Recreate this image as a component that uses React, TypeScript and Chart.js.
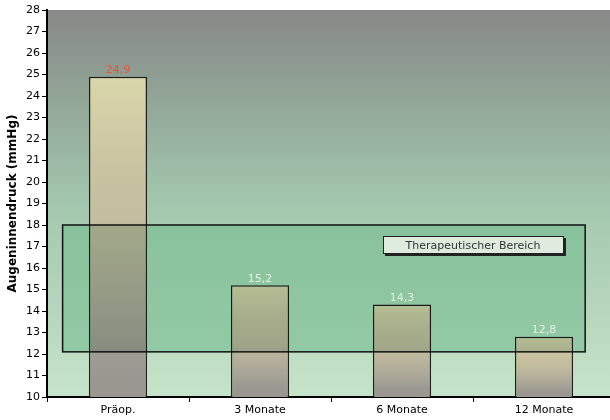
import { useEffect, useRef } from "react";
import { Chart, registerables } from "chart.js";

Chart.register(...registerables);

// Intraocular pressure before surgery and at follow-up visits
const categories = ["Präop.", "3 Monate", "6 Monate", "12 Monate"];
const pressure = [24.9, 15.2, 14.3, 12.8];
const yMin = 10;
const yMax = 28;
const yStep = 1;
// Therapeutic target band (mmHg)
const therapeuticLow = 12.1;
const therapeuticHigh = 18;
const therapeuticLabel = "Therapeutischer Bereich";
const axisTitle = "Augeninnendruck (mmHg)";

const FONT = "'DejaVu Sans', Verdana, sans-serif";

// horizontal extent of the target band, in category-index units
const BAND_FROM = -0.39;
const BAND_TO = 3.29;

const fmt = (v: number) => v.toFixed(1).replace(".", ",");

function bandRect(chart: any) {
  const { x, y } = chart.scales;
  const x0 = x.getPixelForValue(BAND_FROM);
  const x1 = x.getPixelForValue(BAND_TO);
  const y0 = y.getPixelForValue(therapeuticHigh);
  const y1 = y.getPixelForValue(therapeuticLow);
  return { x0, x1, y0, y1 };
}

const backgroundPlugin = {
  id: "plotBackground",
  beforeDraw(chart: any) {
    const { ctx, chartArea } = chart;
    if (!chartArea) return;
    const { left, top, right, bottom } = chartArea;
    const g = ctx.createLinearGradient(0, top, 0, bottom);
    g.addColorStop(0, "#888888");
    g.addColorStop(0.2, "#90a295");
    g.addColorStop(0.5, "#a3c7ae");
    g.addColorStop(1, "#c6e4c9");
    ctx.save();
    ctx.fillStyle = g;
    ctx.fillRect(left, top, right - left, bottom - top);
    ctx.restore();
  },
  beforeDatasetsDraw(chart: any) {
    // base tint of the target band, behind the bars
    const { ctx } = chart;
    const { x0, x1, y0, y1 } = bandRect(chart);
    const g = ctx.createLinearGradient(0, y0, 0, y1);
    g.addColorStop(0, "rgb(164,219,181)");
    g.addColorStop(1, "rgb(176,228,191)");
    ctx.save();
    ctx.fillStyle = g;
    ctx.fillRect(x0, y0, x1 - x0, y1 - y0);
    ctx.restore();
  },
};

const bandPlugin = {
  id: "therapeuticBand",
  afterDatasetsDraw(chart: any) {
    const { ctx, scales } = chart;
    const { x0, x1, y0, y1 } = bandRect(chart);
    ctx.save();
    ctx.globalCompositeOperation = "multiply";
    ctx.fillStyle = "rgb(212,226,220)";
    ctx.fillRect(x0, y0, x1 - x0, y1 - y0);
    ctx.globalCompositeOperation = "source-over";
    ctx.lineWidth = 1.5;
    ctx.strokeStyle = "#111";
    ctx.strokeRect(x0, y0, x1 - x0, y1 - y0);

    // label box for the band
    const cx = scales.x.getPixelForValue(2.5);
    const bw = 181;
    const bh = 18;
    const bx = Math.round(cx - bw / 2);
    const by = Math.round(y0 + 11);
    ctx.fillStyle = "#222";
    ctx.fillRect(bx + 2, by + 2, bw, bh);
    ctx.fillStyle = "#e0ebe0";
    ctx.fillRect(bx, by, bw, bh);
    ctx.lineWidth = 1;
    ctx.strokeStyle = "#222";
    ctx.strokeRect(bx + 0.5, by + 0.5, bw - 1, bh - 1);
    ctx.fillStyle = "#333";
    ctx.font = `11px ${FONT}`;
    ctx.textAlign = "center";
    ctx.textBaseline = "middle";
    ctx.fillText(therapeuticLabel, cx, by + bh / 2 + 1);

    // value labels above bars
    const meta = chart.getDatasetMeta(0);
    meta.data.forEach((bar: any, i: number) => {
      ctx.fillStyle = i === 0 ? "#e4533d" : "#e6efe2";
      ctx.textBaseline = "bottom";
      ctx.fillText(fmt(pressure[i]), bar.x, bar.y - 1);
    });
    ctx.restore();
  },
};

function barFill(context: any) {
  const chart = context.chart;
  const y = chart.scales?.y;
  if (!y || context.raw == null) return "#c8c2a0";
  const top = y.getPixelForValue(context.raw);
  const bottom = y.getPixelForValue(yMin);
  if (!Number.isFinite(top) || !Number.isFinite(bottom) || top === bottom) return "#c8c2a0";
  const g = chart.ctx.createLinearGradient(0, top, 0, bottom);
  g.addColorStop(0, "#dad6aa");
  g.addColorStop(0.3, "#c9c2a1");
  g.addColorStop(0.5, "#c2bc9e");
  g.addColorStop(0.8, "#a8a597");
  g.addColorStop(0.9, "#9b9991");
  g.addColorStop(1, "#98968f");
  return g;
}

export default function App() {
  const ref = useRef<HTMLCanvasElement | null>(null);

  useEffect(() => {
    if (!ref.current) return;
    const chart = new Chart(ref.current, {
      type: "bar",
      data: {
        labels: categories,
        datasets: [
          {
            data: pressure,
            backgroundColor: barFill,
            borderColor: "#1e1e1e",
            borderWidth: 1.5,
            borderSkipped: false,
            categoryPercentage: 1,
            barPercentage: 0.41,
          },
        ],
      },
      options: {
        responsive: false,
        animation: false,
        devicePixelRatio: 1,
        layout: { padding: { top: 10, right: 0, left: 0, bottom: 0 } },
        plugins: {
          legend: { display: false },
          tooltip: { enabled: false },
        },
        scales: {
          x: {
            grid: {
              offset: true,
              drawOnChartArea: false,
              drawTicks: true,
              tickLength: 5,
              color: "#000",
            },
            border: { display: true, color: "#000", width: 2 },
            ticks: { color: "#000", font: { family: FONT, size: 11 }, padding: 2 },
            afterFit(scale: any) {
              scale.height = 23;
            },
          },
          y: {
            min: yMin,
            max: yMax,
            grid: {
              drawOnChartArea: false,
              drawTicks: true,
              tickLength: 5,
              color: "#000",
            },
            border: { display: true, color: "#000", width: 2 },
            ticks: {
              stepSize: yStep,
              color: "#000",
              font: { family: FONT, size: 11 },
              padding: 2,
            },
            title: {
              display: true,
              text: axisTitle,
              color: "#000",
              font: { family: FONT, size: 12, weight: "bold" },
              padding: { top: 6, bottom: 0 },
            },
            afterFit(scale: any) {
              scale.width = 47;
            },
          },
        },
      },
      plugins: [backgroundPlugin, bandPlugin],
    });
    return () => chart.destroy();
  }, []);

  return (
    <div
      style={{
        position: "fixed",
        left: 0,
        top: 0,
        width: 610,
        height: 420,
        overflow: "hidden",
        background: "#fff",
      }}
    >
      <canvas ref={ref} width={615} height={420} style={{ display: "block" }} />
    </div>
  );
}
